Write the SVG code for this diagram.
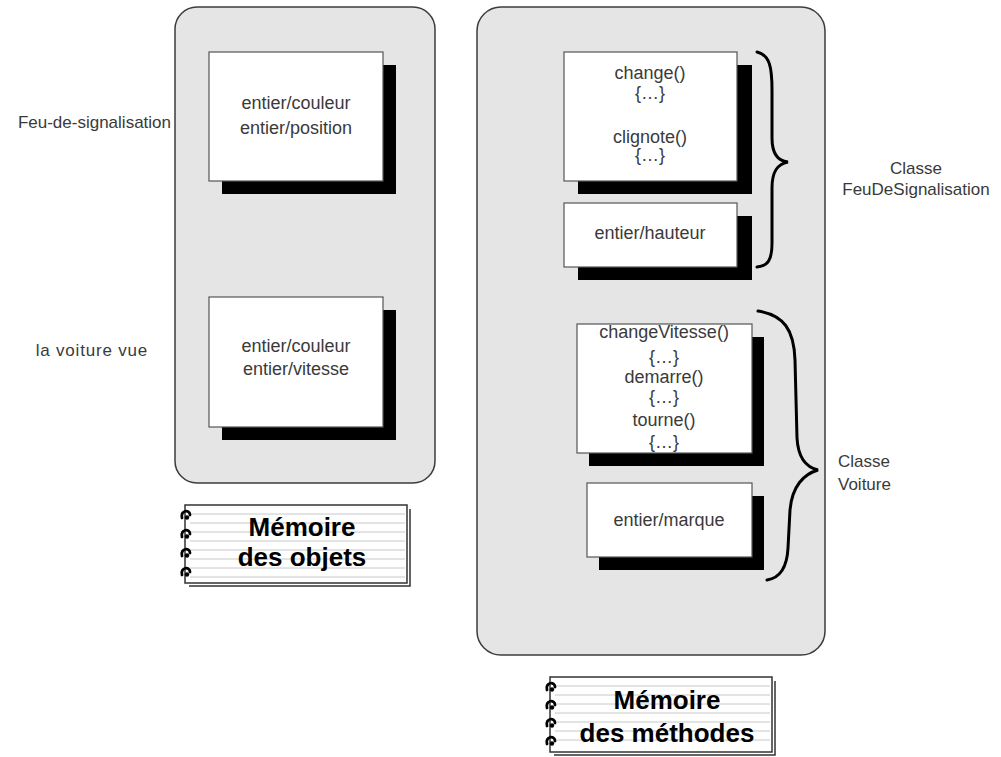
<svg xmlns="http://www.w3.org/2000/svg" width="1001" height="757" viewBox="0 0 1001 757">
<style>
.panel{fill:#e5e5e5;stroke:#3c3c3c;stroke-width:1.5}
.box{fill:#fff;stroke:#555;stroke-width:1.2}
.shadow{fill:#000}
.t{font-family:"Liberation Sans",Arial,sans-serif;font-size:17px;fill:#3a3a3a}
.b{font-size:18px}
.c{text-anchor:middle}
.brace{fill:none;stroke:#000;stroke-width:3;stroke-linecap:round}
.nb{fill:#fff;stroke:#333;stroke-width:1.5}
.nbl{stroke:#c8c8c8;stroke-width:1}
.nbs{fill:none;stroke:#333;stroke-width:1.5}
.ring{fill:none;stroke:#000;stroke-width:2.8;stroke-linecap:round}
.nt{font-family:"Liberation Sans",Arial,sans-serif;font-size:26px;font-weight:bold;fill:#000;text-anchor:middle}
</style>
<defs>
<g id="rings">
<path class="ring" d="M-3,4 C-5,-4 5,-5 5,1"/>
<circle cx="2" cy="3.5" r="2.2" fill="#000"/>
</g>
</defs>

<g id="panel-objets">
<rect class="panel" x="175" y="7" width="260" height="476" rx="22"/>
</g>
<g id="panel-methodes">
<rect class="panel" x="477" y="7" width="348" height="648" rx="24"/>
</g>

<g id="obj-feu">
<rect class="shadow" x="222" y="65" width="174" height="129"/>
<rect class="box" x="209" y="52" width="174" height="129"/>
<text class="t b c" x="296" y="109">entier/couleur</text>
<text class="t b c" x="296" y="134">entier/position</text>
</g>
<g id="obj-voiture">
<rect class="shadow" x="222" y="310" width="174" height="130"/>
<rect class="box" x="209" y="297" width="174" height="130"/>
<text class="t b c" x="296" y="352">entier/couleur</text>
<text class="t b c" x="296" y="375">entier/vitesse</text>
</g>

<g id="label-feu"><text class="t" x="171" y="128" text-anchor="end">Feu-de-signalisation</text></g>
<g id="label-voiture"><text class="t" x="148" y="356" text-anchor="end" letter-spacing="0.8">la voiture vue</text></g>

<g id="meth-feu">
<rect class="shadow" x="578" y="65" width="174" height="129"/>
<rect class="box" x="564" y="52" width="173" height="129"/>
<text class="t b c" x="650" y="79">change()</text>
<text class="t b c" x="650" y="99">{…}</text>
<text class="t b c" x="650" y="143">clignote()</text>
<text class="t b c" x="650" y="161">{…}</text>
</g>
<g id="attr-hauteur">
<rect class="shadow" x="578" y="216" width="174" height="64"/>
<rect class="box" x="564" y="203" width="173" height="64"/>
<text class="t b c" x="650" y="239">entier/hauteur</text>
</g>
<g id="meth-voiture">
<rect class="shadow" x="589" y="337" width="175" height="129"/>
<rect class="box" x="577" y="324" width="175" height="129"/>
<text class="t b c" x="664" y="338">changeVitesse()</text>
<text class="t b c" x="664" y="363">{…}</text>
<text class="t b c" x="664" y="383">demarre()</text>
<text class="t b c" x="664" y="403">{…}</text>
<text class="t b c" x="664" y="426">tourne()</text>
<text class="t b c" x="664" y="448">{…}</text>
</g>
<g id="attr-marque">
<rect class="shadow" x="599" y="496" width="165" height="74"/>
<rect class="box" x="587" y="483" width="165" height="74"/>
<text class="t b c" x="669" y="526">entier/marque</text>
</g>

<g id="connectors">
<path class="brace" d="M757,52 C770,55 772,68 772,90 L772,138 C772,153 777,161 788,162 C777,164 772,172 772,188 L772,243 C772,260 768,266 757,267"/>
<path class="brace" d="M758,311 C784,315 794,330 795,360 L797,438 C798,456 805,467 818,470 C804,474 792,486 790,510 L788,548 C787,568 780,578 767,580"/>
</g>

<g id="label-classe-feu">
<text class="t c" x="916" y="174">Classe</text>
<text class="t c" x="916" y="195">FeuDeSignalisation</text>
</g>
<g id="label-classe-voiture">
<text class="t" x="838" y="467">Classe</text>
<text class="t" x="838" y="490">Voiture</text>
</g>

<g id="note-objets">
<path class="nbs" d="M410,509 L410,586 L189,586"/>
<rect class="nb" x="185" y="505" width="222" height="78"/>
<g>
<line class="nbl" x1="190" y1="514" x2="405" y2="514"/>
<line class="nbl" x1="190" y1="523" x2="405" y2="523"/>
<line class="nbl" x1="190" y1="532" x2="405" y2="532"/>
<line class="nbl" x1="190" y1="541" x2="405" y2="541"/>
<line class="nbl" x1="190" y1="550" x2="405" y2="550"/>
<line class="nbl" x1="190" y1="559" x2="405" y2="559"/>
<line class="nbl" x1="190" y1="568" x2="405" y2="568"/>
<line class="nbl" x1="190" y1="577" x2="405" y2="577"/>
</g>
<use href="#rings" x="185" y="514"/>
<use href="#rings" x="185" y="533"/>
<use href="#rings" x="185" y="552"/>
<use href="#rings" x="185" y="571"/>
<text class="nt" x="302" y="536">Mémoire</text>
<text class="nt" x="302" y="566">des objets</text>
</g>

<g id="note-methodes">
<path class="nbs" d="M775,681 L775,755 L554,755"/>
<rect class="nb" x="550" y="677" width="222" height="75"/>
<g>
<line class="nbl" x1="555" y1="686" x2="770" y2="686"/>
<line class="nbl" x1="555" y1="695" x2="770" y2="695"/>
<line class="nbl" x1="555" y1="704" x2="770" y2="704"/>
<line class="nbl" x1="555" y1="713" x2="770" y2="713"/>
<line class="nbl" x1="555" y1="722" x2="770" y2="722"/>
<line class="nbl" x1="555" y1="731" x2="770" y2="731"/>
<line class="nbl" x1="555" y1="740" x2="770" y2="740"/>
</g>
<use href="#rings" x="550" y="686"/>
<use href="#rings" x="550" y="704"/>
<use href="#rings" x="550" y="722"/>
<use href="#rings" x="550" y="740"/>
<text class="nt" x="667" y="709">Mémoire</text>
<text class="nt" x="667" y="742">des méthodes</text>
</g>
</svg>
